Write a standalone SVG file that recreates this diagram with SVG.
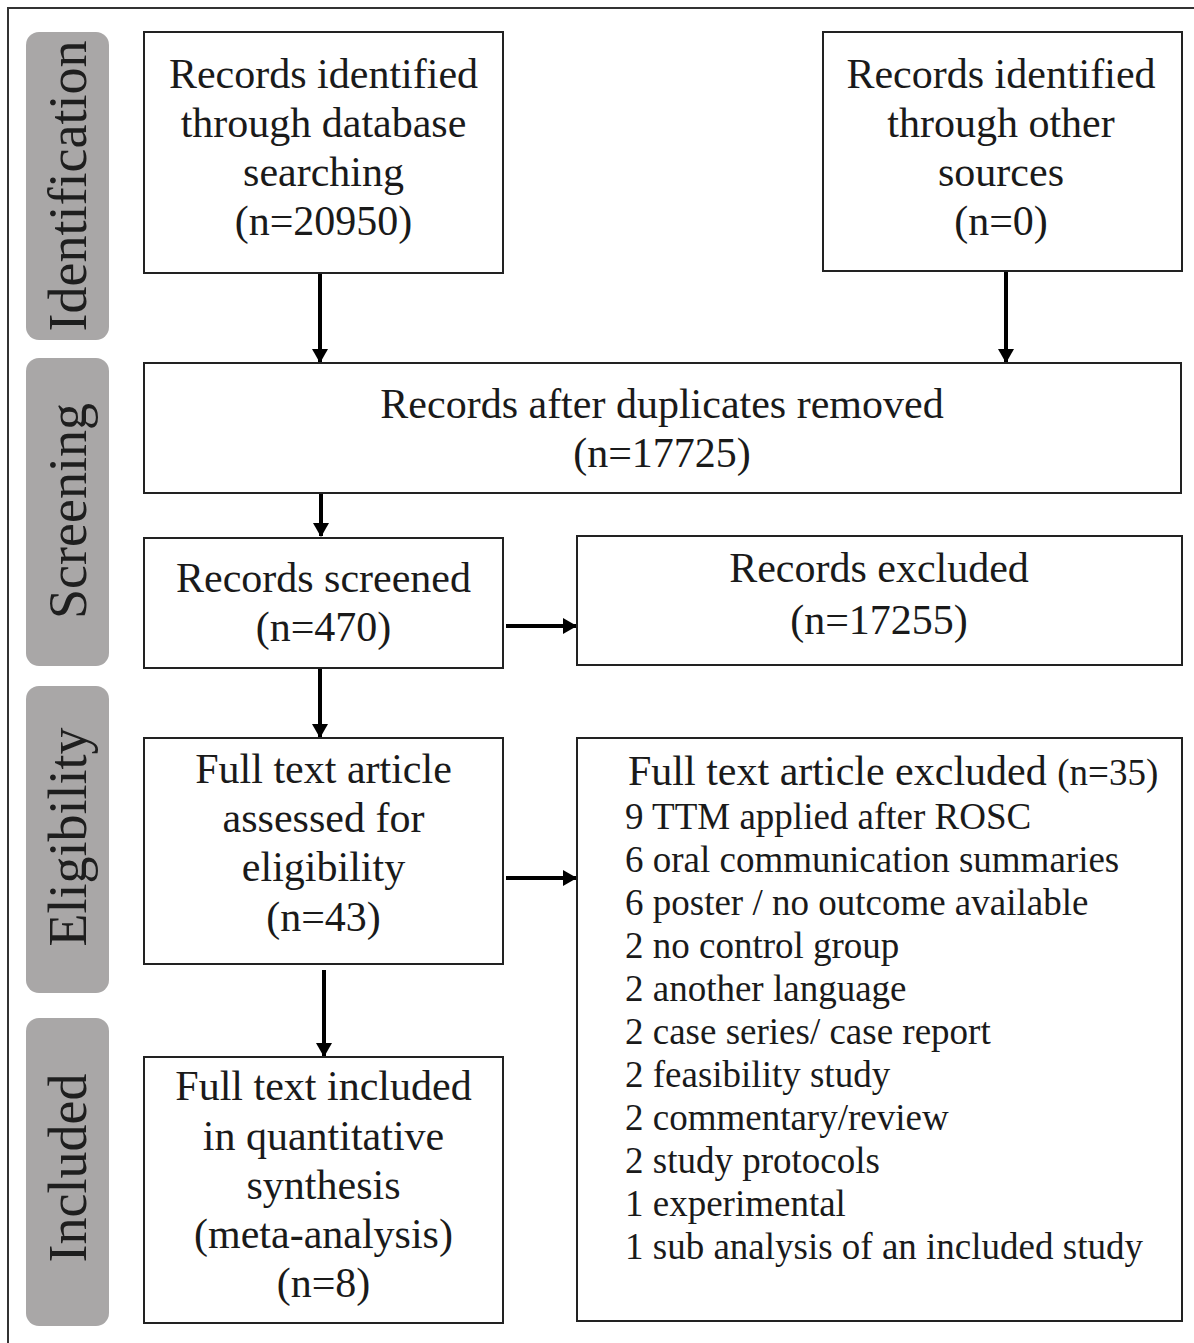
<svg xmlns="http://www.w3.org/2000/svg" width="1194" height="1343" viewBox="0 0 1194 1343">
<style>
.bg{fill:#ffffff}
.frame{fill:none;stroke:#333;stroke-width:2}
.stage{fill:#a9a7a7}
.stage-t{font-family:"Liberation Serif","Times New Roman",serif;font-size:54px;fill:#1e1e1e;text-anchor:middle}
.box{fill:#ffffff;stroke:#222;stroke-width:2}
.t{font-family:"Liberation Serif","Times New Roman",serif;font-size:42px;fill:#1a1a1a;text-anchor:middle}
.l{font-family:"Liberation Serif","Times New Roman",serif;font-size:37px;fill:#1a1a1a}
.h{font-family:"Liberation Serif","Times New Roman",serif;font-size:42px;fill:#1a1a1a}
.arrow{stroke:#000;stroke-width:4;fill:none;marker-end:url(#ah)}
</style>
<defs>
<marker id="ah" viewBox="0 0 14 16" refX="13" refY="8" markerWidth="14" markerHeight="16" markerUnits="userSpaceOnUse" orient="auto">
<path d="M0,0 L14,8 L0,16 z" fill="#000"/>
</marker>
</defs>
<rect class="bg" x="0" y="0" width="1194" height="1343"/>
<rect class="frame" x="8" y="8" width="1200" height="1350"/>

<g id="stage-identification">
<rect class="stage" x="26" y="32" width="83" height="308" rx="13"/>
<text class="stage-t" transform="translate(86,186) rotate(-90)">Identification</text>
</g>
<g id="stage-screening">
<rect class="stage" x="26" y="358" width="83" height="308" rx="13"/>
<text class="stage-t" transform="translate(86,511) rotate(-90)">Screening</text>
</g>
<g id="stage-eligibility">
<rect class="stage" x="26" y="686" width="83" height="307" rx="13"/>
<text class="stage-t" transform="translate(86,837) rotate(-90)">Eligibility</text>
</g>
<g id="stage-included">
<rect class="stage" x="26" y="1018" width="83" height="308" rx="13"/>
<text class="stage-t" transform="translate(86,1168) rotate(-90)">Included</text>
</g>

<g id="connectors">
<line class="arrow" x1="320" y1="273" x2="320" y2="362"/>
<line class="arrow" x1="1006" y1="271" x2="1006" y2="362"/>
<line class="arrow" x1="321" y1="493" x2="321" y2="536"/>
<line class="arrow" x1="506" y1="626" x2="576" y2="626"/>
<line class="arrow" x1="320" y1="668" x2="320" y2="737"/>
<line class="arrow" x1="506" y1="878" x2="576" y2="878"/>
<line class="arrow" x1="324" y1="970" x2="324" y2="1056"/>
</g>

<g id="db-records">
<rect class="box" x="144" y="32" width="359" height="241"/>
<text class="t" x="323.5" y="88">Records identified</text>
<text class="t" x="323.5" y="137">through database</text>
<text class="t" x="323.5" y="186">searching</text>
<text class="t" x="323.5" y="235">(n=20950)</text>
</g>
<g id="other-records">
<rect class="box" x="823" y="32" width="359" height="239"/>
<text class="t" x="1001" y="88">Records identified</text>
<text class="t" x="1001" y="137">through other</text>
<text class="t" x="1001" y="186">sources</text>
<text class="t" x="1001" y="235">(n=0)</text>
</g>
<g id="dedup">
<rect class="box" x="144" y="363" width="1037" height="130"/>
<text class="t" x="662" y="418">Records after duplicates removed</text>
<text class="t" x="662" y="467">(n=17725)</text>
</g>
<g id="screened">
<rect class="box" x="144" y="538" width="359" height="130"/>
<text class="t" x="323.5" y="592">Records screened</text>
<text class="t" x="323.5" y="641">(n=470)</text>
</g>
<g id="excluded">
<rect class="box" x="577" y="536" width="605" height="129"/>
<text class="t" x="879" y="582">Records excluded</text>
<text class="t" x="879" y="634">(n=17255)</text>
</g>
<g id="assessed">
<rect class="box" x="144" y="738" width="359" height="226"/>
<text class="t" x="323.5" y="783">Full text article</text>
<text class="t" x="323.5" y="832">assessed for</text>
<text class="t" x="323.5" y="881">eligibility</text>
<text class="t" x="323.5" y="931">(n=43)</text>
</g>
<g id="ft-excluded">
<rect class="box" x="577" y="738" width="605" height="583"/>
<text class="h" x="628" y="785">Full text article excluded <tspan class="l" style="font-size:37px">(n=35)</tspan></text>
<text class="l" x="625" y="829">9 TTM applied after ROSC</text>
<text class="l" x="625" y="872">6 oral communication summaries</text>
<text class="l" x="625" y="915">6 poster / no outcome available</text>
<text class="l" x="625" y="958">2 no control group</text>
<text class="l" x="625" y="1001">2 another language</text>
<text class="l" x="625" y="1044">2 case series/ case report</text>
<text class="l" x="625" y="1087">2 feasibility study</text>
<text class="l" x="625" y="1130">2 commentary/review</text>
<text class="l" x="625" y="1173">2 study protocols</text>
<text class="l" x="625" y="1216">1 experimental</text>
<text class="l" x="625" y="1259">1 sub analysis of an included study</text>
</g>
<g id="included">
<rect class="box" x="144" y="1057" width="359" height="266"/>
<text class="t" x="323.5" y="1100">Full text included</text>
<text class="t" x="323.5" y="1150">in quantitative</text>
<text class="t" x="323.5" y="1199">synthesis</text>
<text class="t" x="323.5" y="1248">(meta-analysis)</text>
<text class="t" x="323.5" y="1297">(n=8)</text>
</g>
</svg>
